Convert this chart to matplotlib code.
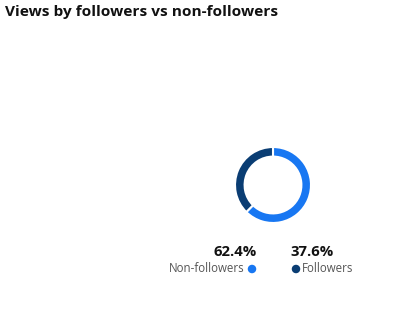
import matplotlib.pyplot as plt

TITLE = "Views by followers vs non-followers"
labels = ["Non-followers", "Followers"]
shares = [62.4, 37.6]
colors = ["#1877F2", "#0A3D73"]

W, H = 413, 317

fig = plt.figure(figsize=(W / 100, H / 100), dpi=100)
fig.patch.set_facecolor("white")

font = ["Open Sans", "DejaVu Sans"]

fig.text(5 / W, 1 - 12 / H, TITLE, fontsize=11.1, fontweight="bold",
         family=font, ha="left", va="center", color="#111111")

# donut
cx, cy, box = 273, 185, 80
ax = fig.add_axes([(cx - box / 2) / W, (H - cy - box / 2) / H, box / W, box / H])
ax.pie(shares, colors=colors, startangle=90, counterclock=False, radius=0.95,
       wedgeprops=dict(width=0.24, edgecolor="white", linewidth=1.5))
ax.set_xlim(-1, 1)
ax.set_ylim(-1, 1)
ax.set_aspect("equal")
ax.axis("off")

# values + legend
fig.text(257 / W, 1 - 252 / H, f"{shares[0]}%", fontsize=10.7, fontweight="bold",
         family=font, ha="right", va="center", color="#111111")
fig.text(290 / W, 1 - 252 / H, f"{shares[1]}%", fontsize=10.7, fontweight="bold",
         family=font, ha="left", va="center", color="#111111")

fig.text(245 / W, 1 - 269 / H, labels[0], fontsize=8.3, family=font,
         ha="right", va="center", color="#555555")
fig.text(302 / W, 1 - 269 / H, labels[1], fontsize=8.3, family=font,
         ha="left", va="center", color="#555555")

dots = fig.add_axes([0, 0, 1, 1])
dots.set_xlim(0, W)
dots.set_ylim(H, 0)
dots.axis("off")
dots.scatter([252, 296], [269, 269], s=26, c=colors, zorder=3)

fig.savefig("out.png", dpi=100)
